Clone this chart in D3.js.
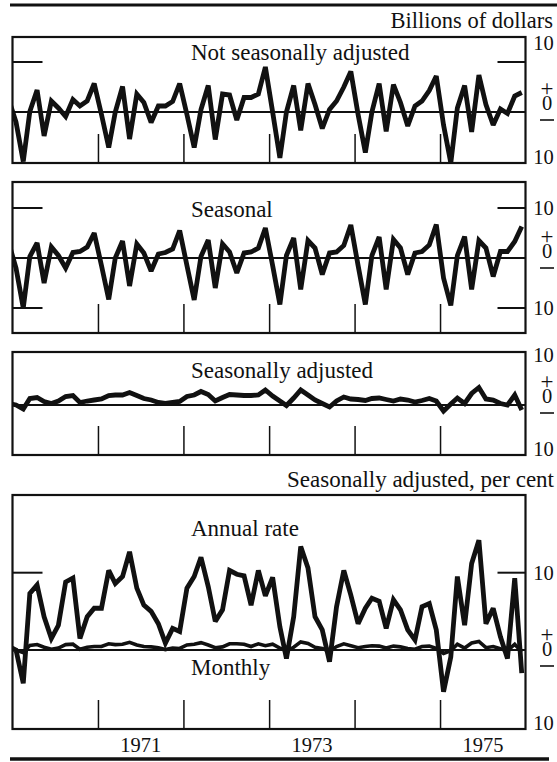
<!DOCTYPE html>
<html>
<head>
<meta charset="utf-8">
<script src="https://cdn.jsdelivr.net/npm/d3@7/dist/d3.min.js"></script>
</head>
<body style="margin:0">
<svg id="chart" width="557" height="762"></svg>
<script>
// Monthly observations, December 1969 through December 1975 (73 values).
// The December 1969 point sits just left of each frame and is clipped away.
const firstMonth = new Date(1969, 11, 1);

// Billions of dollars
const notSeasonallyAdjusted = [
  2.5,
  -2.0, -9.9, 0.1, 4.4, -4.8, 2.2, 0.8, -0.9, 2.5, 1.2, 2.2, 5.7,
  -0.5, -7.1, 0.0, 5.1, -5.4, 3.6, 1.9, -2.1, 1.2, 1.2, 2.1, 5.7,
  -0.5, -7.1, 0.5, 5.3, -5.5, 3.6, 3.4, -1.6, 2.9, 2.9, 3.6, 9.0,
  0.0, -9.2, 0.0, 5.3, -3.7, 5.7, 1.5, -3.3, 0.5, 2.2, 5.0, 8.1,
  -0.5, -8.1, 0.0, 5.7, -3.9, 5.5, 1.9, -2.8, 1.2, 2.2, 4.3, 7.2,
  -2.6, -10.2, 0.8, 5.3, -4.0, 7.4, 1.5, -2.6, 0.6, -0.3, 3.2, 3.9
];
const seasonal = [
  3.0,
  -2.0, -10.0, 0.3, 3.0, -5.0, 2.2, 0.5, -2.0, 1.1, 1.3, 2.2, 5.0,
  -1.5, -8.3, 0.0, 3.4, -5.6, 2.8, 1.0, -2.6, 0.8, 1.1, 1.8, 5.5,
  -1.5, -8.4, 0.3, 3.6, -6.0, 2.8, 1.2, -3.0, 1.0, 1.2, 2.0, 6.0,
  -1.5, -9.3, 0.5, 4.0, -6.3, 3.5, 2.0, -3.3, 1.0, 1.2, 2.5, 6.6,
  -1.5, -9.3, 0.5, 4.2, -6.3, 3.7, 2.0, -3.3, 1.0, 1.3, 2.6, 6.7,
  -4.0, -9.5, 0.5, 4.3, -6.3, 3.5, 2.0, -3.7, 1.3, 1.3, 3.3, 6.3
];
const seasonallyAdjusted = [
  0.3,
  0.0, -0.8, 1.3, 1.5, 0.7, 0.3, 0.8, 1.7, 1.9, 0.5, 0.8, 1.0,
  1.2, 1.9, 2.0, 2.0, 2.5, 1.9, 1.3, 1.0, 0.5, 0.3, 0.5, 0.7,
  1.7, 2.0, 2.7, 2.1, 0.8, 1.5, 2.1, 2.0, 1.9, 1.9, 2.0, 3.0,
  1.8, 0.8, -0.1, 1.4, 3.0, 2.0, 1.0, 0.3, -0.4, 0.8, 1.6, 1.2,
  1.1, 0.9, 1.3, 1.4, 1.1, 0.8, 1.2, 1.0, 0.6, 0.9, 1.3, 0.8,
  -1.2, 0.2, 1.4, 0.3, 2.3, 3.5, 1.2, 1.0, 0.3, 0.0, 2.0, -1.0
];

// Per cent change, seasonally adjusted
const annualRate = [
  0.5,
  0.0, -4.3, 7.3, 8.4, 4.3, 1.5, 3.2, 8.8, 9.3, 1.5, 4.3, 5.4,
  5.4, 10.3, 8.6, 9.5, 12.7, 8.0, 5.8, 5.0, 3.4, 0.9, 2.8, 2.4,
  8.0, 9.5, 12.0, 8.2, 3.7, 5.2, 10.3, 9.8, 9.6, 5.8, 10.3, 7.0,
  9.4, 3.0, -1.1, 4.3, 13.4, 10.6, 4.3, 2.6, -1.5, 5.6, 10.3, 7.1,
  3.4, 5.4, 6.7, 6.3, 2.8, 6.5, 5.2, 2.6, 1.3, 5.6, 6.0, 2.6,
  -5.4, -0.9, 9.5, 3.2, 11.2, 14.2, 3.4, 5.4, 1.7, -1.1, 9.3, -3.0
];
const monthly = [
  0.05,
  0.0, -0.35, 0.6, 0.7, 0.35, 0.1, 0.25, 0.7, 0.75, 0.1, 0.35, 0.45,
  0.45, 0.8, 0.7, 0.75, 1.0, 0.65, 0.45, 0.4, 0.3, 0.05, 0.25, 0.2,
  0.65, 0.75, 0.95, 0.65, 0.3, 0.4, 0.8, 0.8, 0.75, 0.45, 0.8, 0.55,
  0.75, 0.25, -0.1, 0.35, 1.05, 0.85, 0.35, 0.2, -0.15, 0.45, 0.8, 0.55,
  0.3, 0.45, 0.55, 0.5, 0.25, 0.5, 0.4, 0.2, 0.1, 0.45, 0.5, 0.2,
  -0.45, -0.1, 0.75, 0.25, 0.9, 1.1, 0.3, 0.45, 0.15, -0.1, 0.75, -0.25
];

const yearTicks = [1971, 1972, 1973, 1974, 1975];
const yearLabels = [1971, 1973, 1975];
const scaleMark = 10;

// ---- layout ----
const svg = d3.select("#chart");
const frameLeft = 12.5, frameRight = 525.5;
const ink = "#111";

// all lettering is set in a Times-style face
const label = (sel, size) => sel
  .attr("font-size", size)
  .attr("font-family", "Liberation Serif")
  .style("font-family", '"Liberation Serif", monospace')
  .attr("fill", ink);

const x = d3.scaleTime()
  .domain([new Date(1970, 0, 1), new Date(1976, 0, 1)])
  .range([frameLeft, frameRight]);

const monthMid = i => d3.timeDay.offset(d3.timeMonth.offset(firstMonth, i), 15);

const panels = [
  { top: 37, bottom: 163, domain: [-10.2, 15],
    lines: [{ values: notSeasonallyAdjusted, width: 4.8 }],
    titles: [["Not seasonally adjusted", 60]],
    topLabelAtEdge: true, zeroShift: -2 },
  { top: 182, bottom: 333, domain: [-15, 15.2],
    lines: [{ values: seasonal, width: 4.8 }],
    titles: [["Seasonal", 217]], zeroShift: 0 },
  { top: 352, bottom: 455, domain: [-10, 10.6],
    lines: [{ values: seasonallyAdjusted, width: 4.8 }],
    titles: [["Seasonally adjusted", 378]], zeroShift: -2 },
  { top: 495, bottom: 729, domain: [-10.22, 20.05],
    lines: [{ values: monthly, width: 3.6 }, { values: annualRate, width: 4.8 }],
    titles: [["Annual rate", 536], ["Monthly", 675]], zeroShift: 6 }
];

// heading rules and unit captions
svg.append("line").attr("x1", 10).attr("x2", 557).attr("y1", 5).attr("y2", 5)
  .attr("stroke", ink).attr("stroke-width", 3);
svg.append("line").attr("x1", 10).attr("x2", 549).attr("y1", 759).attr("y2", 759)
  .attr("stroke", ink).attr("stroke-width", 3.5);

label(svg.append("text").attr("x", 553).attr("y", 28).attr("text-anchor", "end"), 22.5)
  .text("Billions of dollars");
label(svg.append("text").attr("x", 554).attr("y", 487).attr("text-anchor", "end"), 23)
  .text("Seasonally adjusted, per cent");

const defs = svg.append("defs");

panels.forEach((p, k) => {
  const y = d3.scaleLinear().domain(p.domain).range([p.bottom, p.top]);
  const g = svg.append("g");

  defs.append("clipPath").attr("id", "clip" + k)
    .append("rect")
    .attr("x", frameLeft).attr("y", p.top)
    .attr("width", frameRight - frameLeft).attr("height", p.bottom - p.top);

  // year ticks rising from the bottom of the frame
  const yearAxis = d3.axisBottom(x)
    .tickValues(yearTicks.map(yr => new Date(yr, 0, 1)))
    .tickSize(-29).tickFormat("");
  const ax = g.append("g").attr("transform", `translate(0,${p.bottom})`).call(yearAxis);
  ax.select(".domain").remove();
  ax.selectAll("line").attr("stroke", ink).attr("stroke-width", 1.5);

  // short scale ticks at +/-10 on both sides
  [scaleMark, -scaleMark].forEach(v => {
    const yy = y(v);
    if (yy > p.top + 4 && yy < p.bottom - 4) {
      g.append("line").attr("x1", frameLeft).attr("x2", frameLeft + 30)
        .attr("y1", yy).attr("y2", yy).attr("stroke", ink).attr("stroke-width", 2);
      g.append("line").attr("x1", frameRight - 28).attr("x2", frameRight)
        .attr("y1", yy).attr("y2", yy).attr("stroke", ink).attr("stroke-width", 2);
    }
  });

  // zero line
  g.append("line").attr("x1", frameLeft).attr("x2", frameRight)
    .attr("y1", y(0)).attr("y2", y(0)).attr("stroke", ink).attr("stroke-width", 1.8);

  // series
  const lineGen = d3.line()
    .x((d, i) => x(monthMid(i)))
    .y(d => y(d));
  p.lines.forEach(s => {
    g.append("path").datum(s.values)
      .attr("clip-path", `url(#clip${k})`)
      .attr("fill", "none").attr("stroke", ink)
      .attr("stroke-width", s.width)
      .attr("stroke-linejoin", "miter").attr("stroke-miterlimit", 2.6)
      .attr("d", lineGen);
  });

  // frame
  g.append("rect").attr("x", frameLeft).attr("y", p.top)
    .attr("width", frameRight - frameLeft).attr("height", p.bottom - p.top)
    .attr("fill", "none").attr("stroke", ink).attr("stroke-width", 2.2);

  // titles
  p.titles.forEach(([t, by]) => {
    label(g.append("text").attr("x", 191).attr("y", by), 23).text(t);
  });

  // right-hand scale labels
  const topBase = p.topLabelAtEdge ? p.top + 13 : y(scaleMark) + 7;
  const botBase = Math.min(y(-scaleMark) + 7, p.bottom + 1);
  [topBase, botBase].forEach(b => {
    label(g.append("text").attr("x", 543.5).attr("y", b).attr("text-anchor", "middle"), 20.5)
      .text(String(scaleMark));
  });
  const zeroBase = y(0) + p.zeroShift;
  label(g.append("text").attr("x", 547).attr("y", zeroBase - 14).attr("text-anchor", "middle"), 23)
    .text("+");
  label(g.append("text").attr("x", 547).attr("y", zeroBase).attr("text-anchor", "middle"), 20.5)
    .text("0");
  g.append("line").attr("x1", 540).attr("x2", 554)
    .attr("y1", zeroBase + 10).attr("y2", zeroBase + 10)
    .attr("stroke", ink).attr("stroke-width", 1.6);
});

// year labels centred under their years
const labelAxis = d3.axisBottom(x)
  .tickValues(yearLabels.map(yr => new Date(yr, 6, 1)))
  .tickSize(0).tickPadding(0)
  .tickFormat(d3.timeFormat("%Y"));
const la = svg.append("g").attr("transform", "translate(0,737)").call(labelAxis);
la.attr("font-family", null).attr("font-size", null);
la.select(".domain").remove();
label(la.selectAll("text").attr("dy", 0).attr("y", 15), 20.5);
</script>
</body>
</html>
